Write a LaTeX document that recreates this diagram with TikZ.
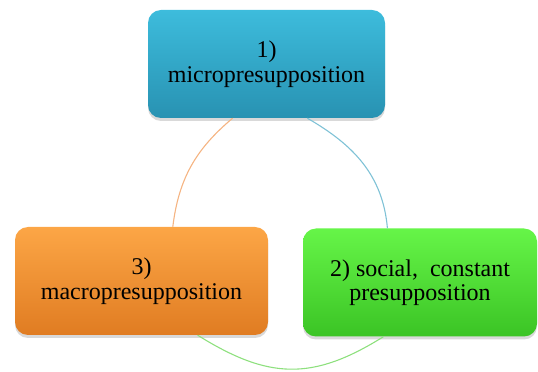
\documentclass[tikz,border=0pt]{standalone}
\usepackage{fontspec}
\setmainfont{Liberation Serif}
\usetikzlibrary{shadows}
\definecolor{bluetop}{HTML}{3DBCDC}
\definecolor{bluebot}{HTML}{2892B2}
\definecolor{orangetop}{HTML}{FCA646}
\definecolor{orangebot}{HTML}{E07C22}
\definecolor{greentop}{HTML}{66F548}
\definecolor{greenbot}{HTML}{3BC425}
\definecolor{bluearc}{HTML}{7FC2D6}
\definecolor{orangearc}{HTML}{F5B482}
\definecolor{greenarc}{HTML}{8EE07E}
\tikzset{cyclebox/.style={rounded corners=13pt,align=center,inner sep=0pt,
 minimum height=108pt,text=black,font=\rmfamily\fontsize{24}{24.5}\selectfont,
 drop shadow={shadow xshift=0pt,shadow yshift=-3pt,opacity=.3}},
 cyclearc/.style={line width=1.1pt}}

\begin{document}
\begin{tikzpicture}[x=1pt,y=1pt]
\useasboundingbox (0,0) rectangle (538,372);
\node[cyclebox,minimum width=237pt,top color=bluetop,bottom color=bluebot] (micro) at (266.5,308) {1)\\micropresupposition};
\node[cyclebox,minimum width=234pt,top color=greentop,bottom color=greenbot] (social) at (420,89.5) {2) social,\ \ constant\\presupposition};
\node[cyclebox,minimum width=253pt,top color=orangetop,bottom color=orangebot] (macro) at (141.5,91) {3)\\macropresupposition};
\draw[cyclearc,bluearc] (micro.307) to[out=-30,in=95] (social.121);
\draw[cyclearc,greenarc] (macro.-44) to[out=-32,in=212,looseness=1.15] (social.236);
\draw[cyclearc,orangearc] (macro.60) to[out=83,in=220] (micro.238);
\end{tikzpicture}
\end{document}
